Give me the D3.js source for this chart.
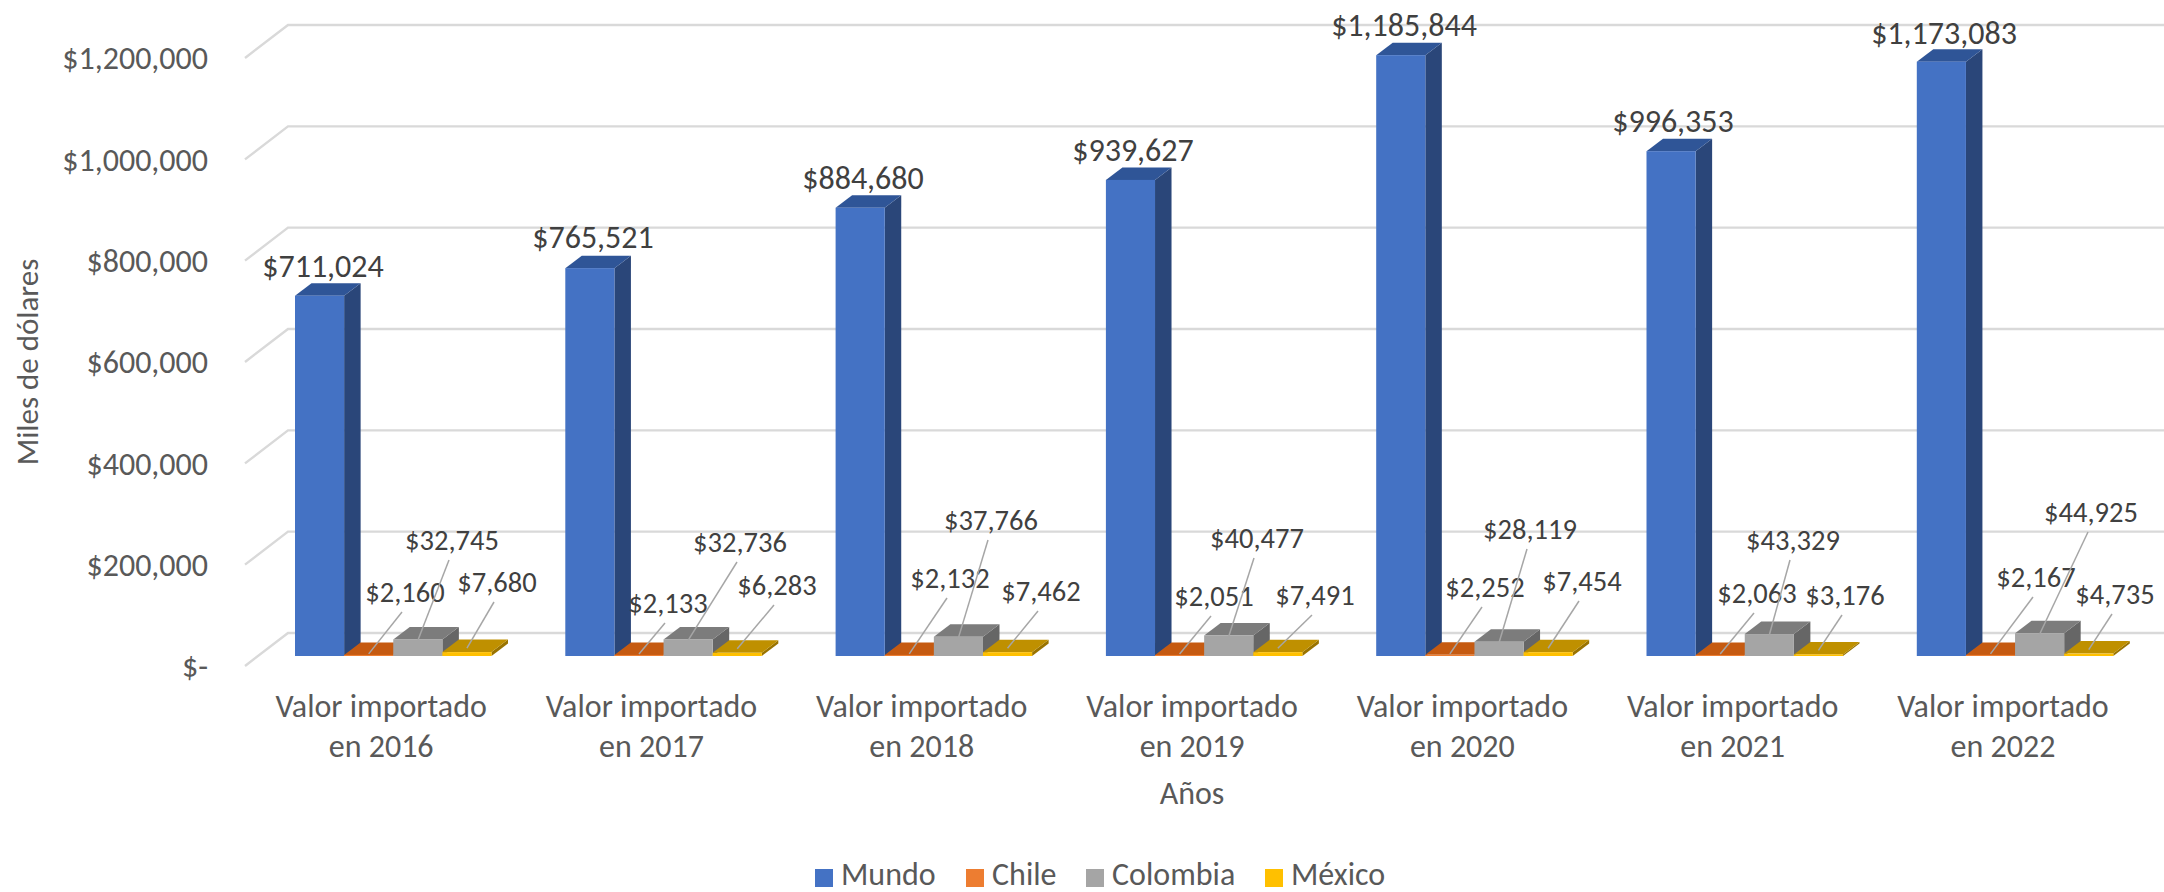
<!DOCTYPE html>
<html><head><meta charset="utf-8">
<script src="https://cdn.jsdelivr.net/npm/d3@7/dist/d3.min.js"></script>
<style>html,body{margin:0;padding:0;background:#fff}svg{display:block}text{font-family:Carlito,Calibri,Lato,sans-serif}</style>
</head><body><svg id="c" width="2164" height="892"></svg>
<script>
const years = ["2016","2017","2018","2019","2020","2021","2022"];
const seriesNames = ["Mundo","Chile","Colombia","México"];
const mundo = [711024,765521,884680,939627,1185844,996353,1173083];
const chile = [2160,2133,2132,2051,2252,2063,2167];
const colombia = [32745,32736,37766,40477,28119,43329,44925];
const mexico = [7680,6283,7462,7491,7454,3176,4735];
const yTicks = [0,200000,400000,600000,800000,1000000,1200000];
const frontColors = ["#4472C4","#ED7D31","#A5A5A5","#FFC000"];
const topColors = ["#2F5597","#C55A11","#7C7C7C","#BF9000"];
const sideColors = ["#2A4679","#9E480E","#666666","#997300"];
// hand-placed label centres (page pixels), per year, per series
const labelPos = [
 [[323,266],[405,592],[452,540],[497,582]],
 [[593,237],[668,603],[740,542],[777,585]],
 [[863,178],[950,578],[991,520],[1041,591]],
 [[1133,150],[1214,596],[1257,538],[1315,595]],
 [[1404,25],[1485,587],[1530,529],[1582,581]],
 [[1673,121],[1757,593],[1793,540],[1845,595]],
 [[1944,33],[2036,577],[2091,512],[2115,594]]
];
const values = [mundo,chile,colombia,mexico];
const svg = d3.select("#c");
const depth = {dx:16.5, dy:12.5}, floor = {fx:245, bx:288, fdy:10, bdy:-23};
const y = d3.scaleLinear().domain([0,1200000]).range([656,48]);
const x0 = d3.scaleBand().domain(years).range([295-61,295-61+270.3*7]).paddingInner(0).paddingOuter(0);
const x1 = d3.scaleBand().domain(seriesNames).range([61,61+196.5]);
const fmt = d3.format("$,");

// grid
const grid = svg.append("g").attr("fill","none").attr("stroke","#D9D9D9").attr("stroke-width",2.4);
yTicks.forEach(t=>{
  grid.append("path").attr("d",d3.line()([[floor.fx,y(t)+floor.fdy],[floor.bx,y(t)+floor.bdy],[2164,y(t)+floor.bdy]]));
});
// y axis labels
const ya = svg.append("g").attr("transform",`translate(208,${floor.fdy})`)
  .call(d3.axisLeft(y).tickValues(yTicks).tickSize(0).tickPadding(0).tickFormat(v=>v===0?"$-":fmt(v)));
ya.select(".domain").remove();
ya.selectAll("text").attr("font-size",32).attr("fill","#595959").attr("dy","0.34em").style("font-family","Carlito,Calibri,Lato,sans-serif");

// bars
years.forEach((yr,i)=>{
  const g = svg.append("g");
  seriesNames.forEach((s,k)=>{
    const v = values[k][i];
    const xa = x0(yr)+x1(s), xb = xa+x1.bandwidth();
    const yt = y(v), yb = y(0), {dx,dy} = depth;
    const line = d3.line();
    g.append("path").attr("fill",sideColors[k]).attr("d",line([[xb,yt],[xb+dx,yt-dy],[xb+dx,yb-dy],[xb,yb]])+"Z");
    g.append("path").attr("fill",topColors[k]).attr("d",line([[xa,yt],[xa+dx,yt-dy],[xb+dx,yt-dy],[xb,yt]])+"Z");
    g.append("rect").attr("fill",frontColors[k]).attr("x",xa).attr("y",yt).attr("width",x1.bandwidth()).attr("height",Math.max(yb-yt,1));
  });
});
// leaders + labels
years.forEach((yr,i)=>{
  seriesNames.forEach((s,k)=>{
    const [lx,ly] = labelPos[i][k];
    if(k>0){
      const ax = x0(yr)+x1(s)+x1.bandwidth()/2, ay = y(values[k][i]) + (k===2?1:(k===1?-1:-4));
      svg.append("line").attr("x1",lx-3).attr("y1",ly+20).attr("x2",ax).attr("y2",ay)
        .attr("stroke","#A6A6A6").attr("stroke-width",1.5);
    }
    svg.append("text").attr("x",lx).attr("y",ly).attr("dy","0.34em").attr("text-anchor","middle")
      .attr("font-size",k===0?32:28.5).attr("fill","#404040").text(fmt(values[k][i]));
  });
});
// category labels
const xa = svg.append("g")
  .call(d3.axisBottom(x0).tickSize(0).tickFormat(""));
xa.select(".domain").remove();
xa.selectAll("text").remove();
years.forEach(yr=>{
  const cx = x0(yr)+x0.bandwidth()/2 + 12;
  const t = svg.append("text").attr("text-anchor","middle").attr("font-size",32).attr("fill","#595959");
  t.append("tspan").attr("x",cx).attr("y",717).text("Valor importado");
  t.append("tspan").attr("x",cx).attr("y",757).text("en "+yr);
});
svg.append("text").attr("x",1192).attr("y",804).attr("text-anchor","middle").attr("font-size",32).attr("fill","#595959").text("Años");
svg.append("text").attr("transform","translate(38,362) rotate(-90)").attr("text-anchor","middle").attr("font-size",31).attr("fill","#595959").text("Miles de dólares");
// legend
const legX = [815,966,1086,1265];
const leg = svg.append("g");
seriesNames.forEach((s,k)=>{
  leg.append("rect").attr("x",legX[k]).attr("y",869).attr("width",18).attr("height",18).attr("fill",frontColors[k]);
  leg.append("text").attr("x",legX[k]+26).attr("y",885).attr("font-size",32).attr("fill","#595959").text(s);
});
</script></body></html>
